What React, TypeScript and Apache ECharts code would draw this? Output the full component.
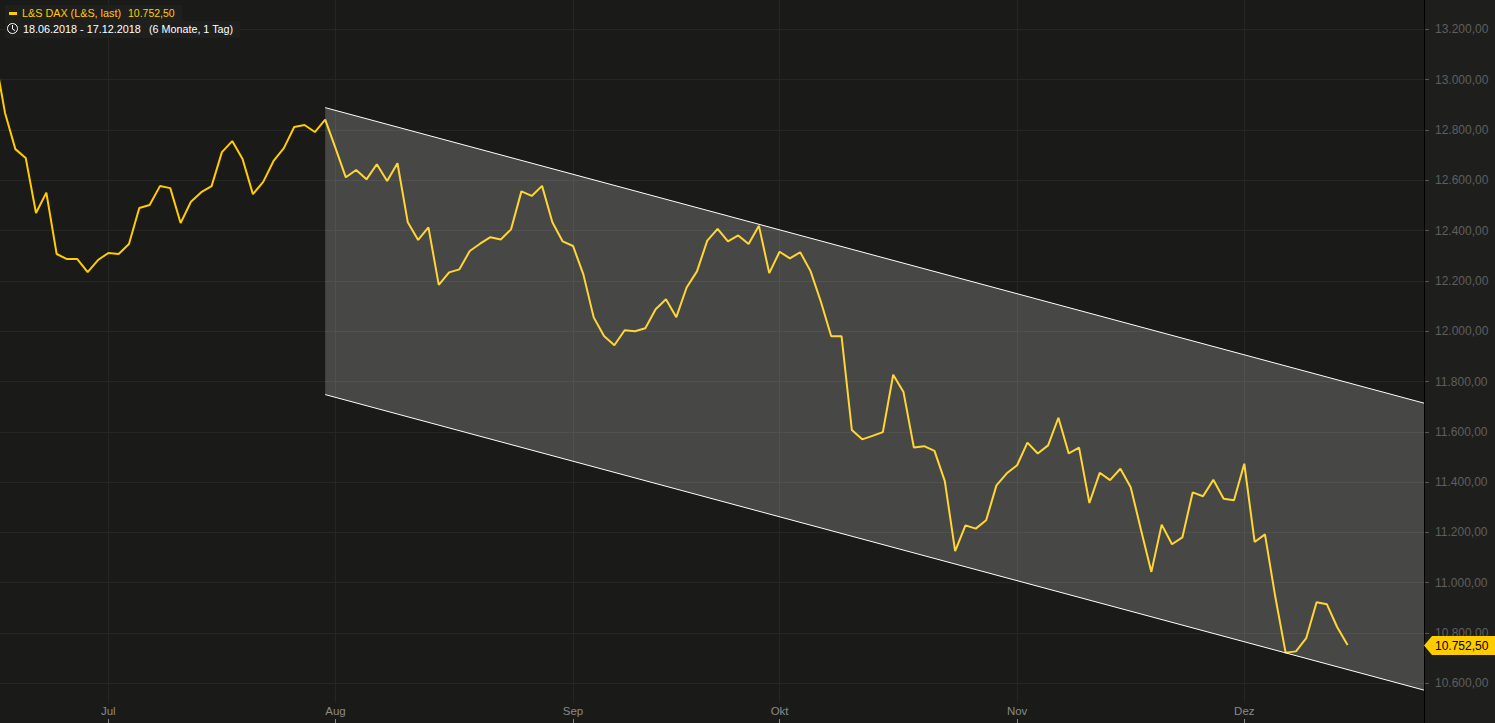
import React, { useEffect, useRef } from "react";
import * as echarts from "echarts";

const priceValues = [
  13098, 12868, 12724, 12689, 12470, 12551, 12307, 12287, 12287, 12235, 12283, 12311, 12307, 12347, 12490, 12502,
  12577, 12569, 12430, 12515, 12553, 12577, 12712, 12756, 12685, 12545, 12594, 12677, 12728, 12812, 12820, 12792,
  12841, 12728, 12612, 12641, 12604, 12664, 12597, 12668, 12433, 12363, 12413, 12184, 12234, 12246, 12319, 12348,
  12374, 12365, 12405, 12556, 12538, 12578, 12433, 12357, 12339, 12226, 12055, 11981, 11944, 12004, 12000, 12012,
  12087, 12127, 12056, 12174, 12238, 12360, 12407, 12357, 12381, 12347, 12419, 12231, 12316, 12290, 12314, 12239,
  12117, 11980, 11980, 11607, 11570, 11584, 11599, 11827, 11758, 11538, 11543, 11524, 11404, 11126, 11228, 11215,
  11248, 11387, 11435, 11467, 11557, 11514, 11546, 11656, 11514, 11537, 11317, 11437, 11408, 11453, 11380, 11210,
  11043, 11231, 11153, 11180, 11359, 11344, 11409, 11334, 11328, 11473, 11162, 11192, 10944, 10722, 10727, 10780,
  10922, 10914, 10823, 10752.5,
];
const firstIndex = -1;
const monthIndex = [10, 32, 55, 75, 98, 120];
const monthLabels = ["Jul", "Aug", "Sep", "Okt", "Nov", "Dez"];
const yTicks = [10600, 10800, 11000, 11200, 11400, 11600, 11800, 12000, 12200, 12400, 12600, 12800, 13000, 13200];
const channelX = [31, 137.4];
const channelUpper = [12889, 11714];
const channelLower = [11748, 10573];

const fmt = (v: number) =>
  v.toFixed(2).replace(".", ",").replace(/\B(?=(\d{3})(?!\d))/g, ".");

const FONT = "'Liberation Sans', Arial, sans-serif";
const PLOT = "#1a1a18";
const BAND = "#1e1e1d";
const GOLD = "#ffcc00";

export default function App() {
  const ref = useRef<HTMLDivElement>(null);
  useEffect(() => {
    document.body.style.margin = "0";
    document.body.style.background = PLOT;
    const chart = echarts.init(ref.current!, null, { renderer: "svg" });
    chart.setOption({
      animation: false,
      backgroundColor: PLOT,
      grid: { left: 0, top: 0, width: 1424, height: 703, show: false },
      xAxis: {
        type: "value",
        min: -0.487,
        max: 137.4,
        offset: 16,
        axisLine: { show: true, onZero: false, lineStyle: { color: "rgba(0,0,0,0)" } },
        axisTick: { show: true, inside: false, length: 4, lineStyle: { color: "#8a8a8a" }, customValues: monthIndex },
        axisLabel: {
          inside: true,
          margin: 2,
          color: "#8a8a8a",
          fontFamily: FONT,
          fontSize: 11.5,
          customValues: monthIndex,
          formatter: (v: number) => monthLabels[monthIndex.indexOf(Math.round(v))] ?? "",
        },
        splitLine: { show: true, lineStyle: { color: "#262625", width: 1 } },
      },
      yAxis: {
        type: "value",
        position: "right",
        min: 10521.7,
        max: 13317,
        axisLine: { show: false, onZero: false },
        axisTick: { show: true, length: 5, lineStyle: { color: "#555" }, customValues: yTicks },
        axisLabel: {
          margin: 11,
          color: "#5f5f5f",
          fontFamily: FONT,
          fontSize: 12,
          customValues: yTicks,
          formatter: (v: number) => fmt(v),
        },
        splitLine: { show: true, lineStyle: { color: "#262625", width: 1 } },
      },
      series: [
        {
          type: "line",
          z: 2,
          symbol: "none",
          silent: true,
          data: priceValues.map((v, i) => [firstIndex + i, v]),
          lineStyle: { color: GOLD, width: 2 },
        },
        {
          type: "custom",
          z: 3,
          silent: true,
          clip: true,
          data: [[channelX[0], channelUpper[0], channelLower[0], channelX[1], channelUpper[1], channelLower[1]]],
          renderItem: (_p: any, api: any) => {
            const a = api.coord([api.value(0), api.value(1)]);
            const b = api.coord([api.value(3), api.value(4)]);
            const c = api.coord([api.value(3), api.value(5)]);
            const d = api.coord([api.value(0), api.value(2)]);
            const stroke = { stroke: "#ffffff", lineWidth: 1, fill: "none" };
            return {
              type: "group",
              children: [
                { type: "polygon", shape: { points: [a, b, c, d] }, style: { fill: "rgba(255,255,255,0.2)" } },
                { type: "line", shape: { x1: a[0], y1: a[1], x2: b[0], y2: b[1] }, style: stroke },
                { type: "line", shape: { x1: d[0], y1: d[1], x2: c[0], y2: c[1] }, style: stroke },
              ],
            };
          },
        },
      ],
      graphic: [
        { type: "rect", z: -1, shape: { x: 1424, y: 0, width: 71, height: 723 }, style: { fill: BAND } },
        { type: "line", z: 9, shape: { x1: 1424.5, y1: 0, x2: 1424.5, y2: 723 }, style: { stroke: "#000", lineWidth: 1 } },
        { type: "rect", z: 10, shape: { x: 5, y: 5, width: 177, height: 16 }, style: { fill: "#1f1f1e" } },
        { type: "rect", z: 10, shape: { x: 5, y: 21, width: 235, height: 17 }, style: { fill: "#1f1f1e" } },
        { type: "rect", z: 11, shape: { x: 9, y: 12, width: 8, height: 3 }, style: { fill: GOLD } },
        { type: "text", z: 11, x: 22, y: 13, style: { text: "L&S DAX (L&S, last)", fill: GOLD, font: `10.8px ${FONT}`, textVerticalAlign: "middle" } },
        { type: "text", z: 11, x: 128, y: 13, style: { text: "10.752,50", fill: GOLD, font: `10.5px ${FONT}`, textVerticalAlign: "middle" } },
        { type: "circle", z: 11, shape: { cx: 12.5, cy: 28.5, r: 5 }, style: { fill: "none", stroke: "#fff", lineWidth: 1 } },
        { type: "polyline", z: 11, shape: { points: [[12.5, 25], [12.5, 29], [15, 30.5]] }, style: { fill: "none", stroke: "#fff", lineWidth: 1 } },
        { type: "text", z: 11, x: 23, y: 29, style: { text: "18.06.2018 - 17.12.2018", fill: "#fff", font: `10.8px ${FONT}`, textVerticalAlign: "middle" } },
        { type: "text", z: 11, x: 149, y: 29, style: { text: "(6 Monate, 1 Tag)", fill: "#fff", font: `10.75px ${FONT}`, textVerticalAlign: "middle" } },
        { type: "polygon", z: 12, shape: { points: [[1424, 645.5], [1432, 636], [1495, 636], [1495, 655], [1432, 655]] }, style: { fill: GOLD } },
        { type: "text", z: 13, x: 1435, y: 646, style: { text: "10.752,50", fill: "#000", font: `12px ${FONT}`, textVerticalAlign: "middle" } },
      ],
    });
    return () => chart.dispose();
  }, []);
  return <div ref={ref} style={{ position: "fixed", left: 0, top: 0, width: 1495, height: 723 }} />;
}
